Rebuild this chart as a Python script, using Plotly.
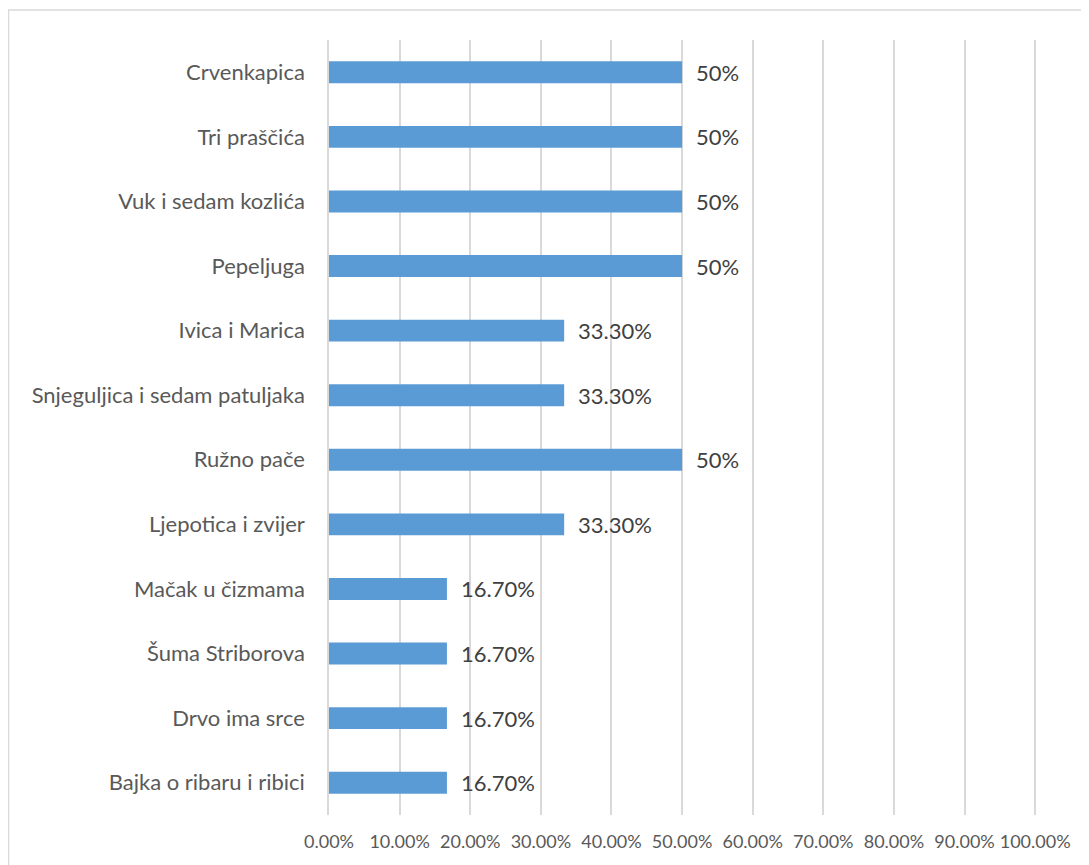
"""Horizontal bar chart — omiljene bajke."""

import plotly.graph_objects as go

bajke = [
    "Crvenkapica",
    "Tri praščića",
    "Vuk i sedam kozlića",
    "Pepeljuga",
    "Ivica i Marica",
    "Snjeguljica i sedam patuljaka",
    "Ružno pače",
    "Ljepotica i zvijer",
    "Mačak u čizmama",
    "Šuma Striborova",
    "Drvo ima srce",
    "Bajka o ribaru i ribici",
]
udio = [0.5, 0.5, 0.5, 0.5, 0.333, 0.333, 0.5, 0.333, 0.167, 0.167, 0.167, 0.167]
oznake = ["50%", "50%", "50%", "50%", "33.30%", "33.30%", "50%", "33.30%",
          "16.70%", "16.70%", "16.70%", "16.70%"]
x_ticks = [i / 10 for i in range(11)]

FONT = "Lato, Calibri, sans-serif"
GRID = "#D9D9D9"

fig = go.Figure()
fig.add_trace(go.Bar(
    y=bajke, x=udio, orientation="h",
    marker=dict(color="#5B9BD5", line=dict(width=0)),
    width=0.34,
    hoverinfo="skip",
))

for b, v, t in zip(bajke, udio, oznake):
    fig.add_annotation(
        x=v, y=b, text=t, showarrow=False,
        xanchor="left", xshift=12,
        font=dict(family=FONT, size=22, color="#404040"),
    )

# stranica ima 8px margine, pa je slika pomaknuta
L, R, T, B = 321, 51, 32, 50
W, H = 1081, 857
pw, ph = W - L - R, H - T - B
# okvir: vidljivi samo lijevi i gornji rub
fig.add_shape(
    type="rect", xref="paper", yref="paper",
    x0=(0.5 - L) / pw, x1=(W + 20 - L) / pw,
    y0=-(B + 20) / ph, y1=1 + (T - 2) / ph,
    line=dict(color=GRID, width=1.5), fillcolor="rgba(0,0,0,0)", layer="below",
)

fig.update_layout(
    width=W, height=H,
    margin=dict(l=L, r=R, t=T, b=B),
    paper_bgcolor="white", plot_bgcolor="white",
    showlegend=False,
    font=dict(family=FONT),
    xaxis=dict(
        range=[0, 1.004], tickvals=x_ticks, tickformat=".2%",
        showgrid=True, gridcolor=GRID, gridwidth=1.5,
        zeroline=False, showline=False,
        tickfont=dict(family=FONT, size=18, color="#595959"),
        ticklabelstandoff=14, ticks="",
    ),
    yaxis=dict(
        autorange="reversed", showgrid=False, zeroline=False,
        showline=True, linecolor=GRID, linewidth=1.5,
        tickfont=dict(family=FONT, size=22, color="#595959"),
        ticklabelstandoff=18, ticks="",
    ),
)

fig.write_html("out.html")
